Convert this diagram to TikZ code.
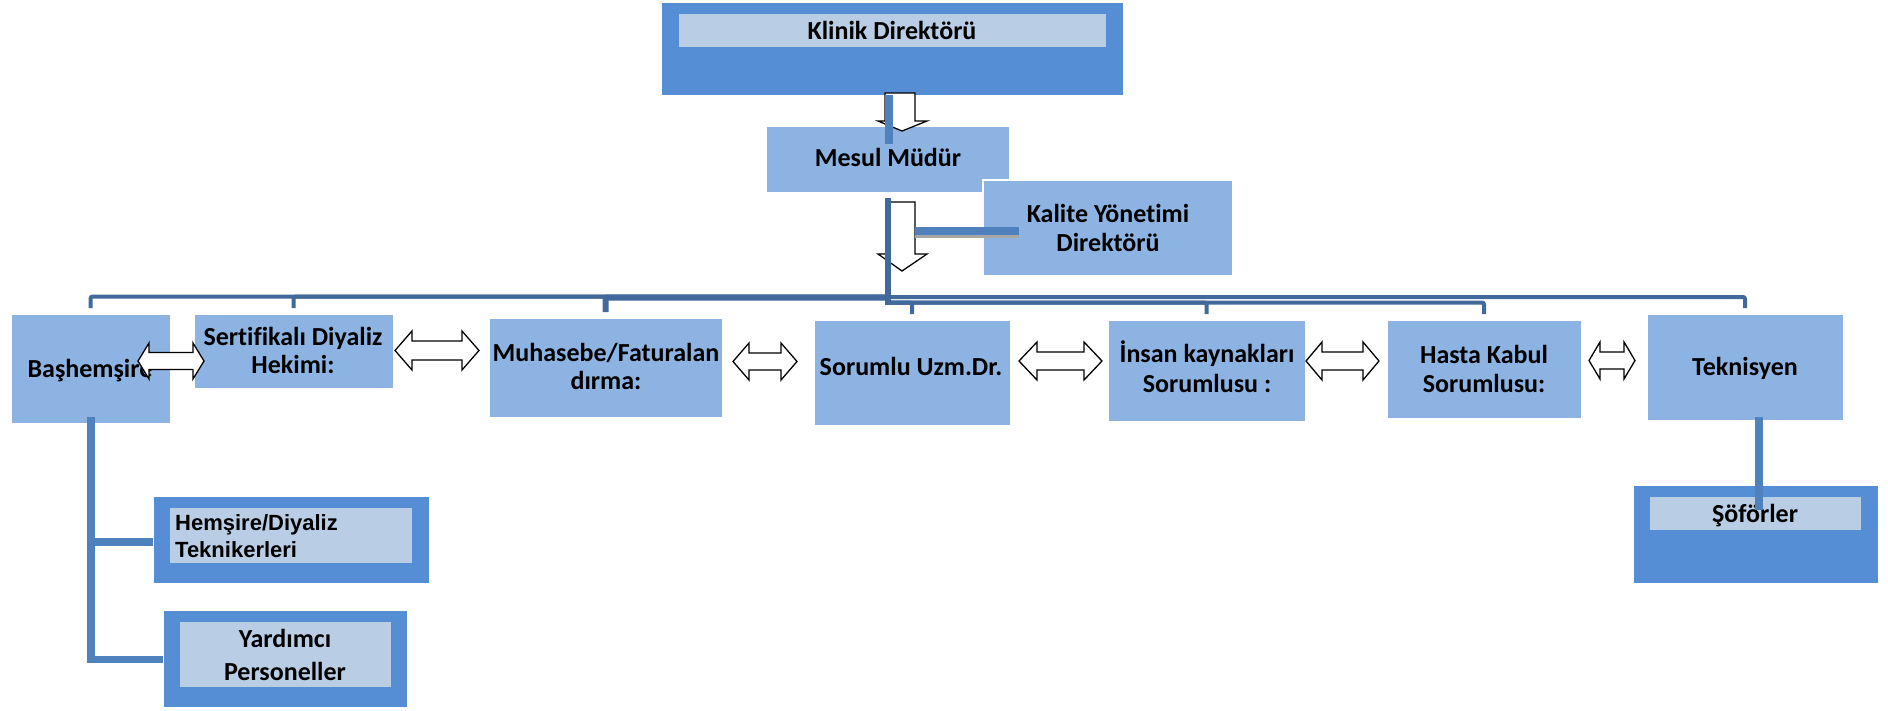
\documentclass[tikz,border=0pt]{standalone}
\usepackage{fontspec}
\setmainfont{Carlito}[RawFeature={-liga}]
\newfontfamily\arialfont{Liberation Sans}
\usetikzlibrary{calc}
\definecolor{lbox}{HTML}{8DB3E2}
\definecolor{dbox}{HTML}{558ED5}
\definecolor{ibox}{HTML}{B9CDE5}
\definecolor{dline}{HTML}{41699B}
\definecolor{mline}{HTML}{4F81BD}
\definecolor{shad}{HTML}{A6A6A6}
\newcommand{\dblarr}[7]{% name x1 x2 yc hh sh hl
\draw[blkarr] (#2,#4) -- ({#2+#7},{#4-#5}) -- ({#2+#7},{#4-#6}) -- ({#3-#7},{#4-#6}) -- ({#3-#7},{#4-#5}) -- (#3,#4) -- ({#3-#7},{#4+#5}) -- ({#3-#7},{#4+#6}) -- ({#2+#7},{#4+#6}) -- ({#2+#7},{#4+#5}) -- cycle;
\coordinate (#1) at ({(#2+#3)/2},#4);}
\begin{document}
\begin{tikzpicture}[x=1pt,y=-1pt,
  boxbase/.style={rectangle,inner sep=0pt,outer sep=0pt,anchor=north west,draw=white,line width=1pt},
  lightbox/.style={boxbase,fill=lbox},
  darkbox/.style={boxbase,fill=dbox},
  innerbox/.style={boxbase,fill=ibox,draw=none},
  lbl/.style={inner sep=0pt,anchor=base,font=\fontsize{26}{28}\selectfont\bfseries},
  blkarr/.style={draw=black,fill=white,line width=1.3pt,line join=miter},
  bus/.style={draw=dline,line width=4pt,rounded corners=2pt},
  busthick/.style={draw=dline,line width=6pt,rounded corners=2pt},
  medline/.style={draw=mline,line width=8pt}]
\useasboundingbox (0,0) rectangle (1888,710);

% ---- boxes ----
\node[darkbox,minimum width=462pt,minimum height=93pt] (kout) at (661,2) {};
\node[innerbox,minimum width=427pt,minimum height=33pt] (kin) at (679,14) {};
\node[lbl] (kint) at (892,39) {Klinik Direktörü};

\node[lightbox,minimum width=243pt,minimum height=66pt] (mesul) at (766,126) {};
\node[lbl] (mesult) at (888,166) {Mesul Müdür};

\node[lightbox,draw=white,line width=2.5pt,minimum width=250pt,minimum height=96pt] (kal) at (983,180) {};
\node[lbl] (kal1) at (1108,222) {Kalite Yönetimi};
\node[lbl] (kal2) at (1108,251) {Direktörü};

\node[lightbox,minimum width=159pt,minimum height=109pt] (bas) at (11,314) {};
\node[lbl] (bast) at (90,377) {Başhemşire};

\node[lightbox,minimum width=199pt,minimum height=74pt] (sert) at (194,314) {};
\node[lbl] (sert1) at (293,345) {Sertifikalı Diyaliz};
\node[lbl] (sert2) at (293,373) {Hekimi:};

\node[lightbox,minimum width=233pt,minimum height=99pt] (muh) at (489,318) {};
\node[lbl] (muh1) at (606,361) {Muhasebe/Faturalan};
\node[lbl] (muh2) at (606,389) {dırma:};

\node[lightbox,minimum width=196pt,minimum height=105pt] (sor) at (814,320) {};
\node[lbl] (sort) at (911,375) {Sorumlu Uzm.Dr.};

\node[lightbox,minimum width=197pt,minimum height=101pt] (ins) at (1108,320) {};
\node[lbl] (ins1) at (1207,362) {İnsan kaynakları};
\node[lbl] (ins2) at (1207,392) {Sorumlusu :};

\node[lightbox,minimum width=194pt,minimum height=98pt] (has) at (1387,320) {};
\node[lbl] (has1) at (1484,363) {Hasta Kabul};
\node[lbl] (has2) at (1484,392) {Sorumlusu:};

\node[lightbox,minimum width=196pt,minimum height=106pt] (tek) at (1647,314) {};
\node[lbl] (tekt) at (1745,375) {Teknisyen};

\node[darkbox,minimum width=245pt,minimum height=98pt] (sout) at (1633,485) {};
\node[innerbox,minimum width=211pt,minimum height=33pt] (sin) at (1650,497) {};
\node[lbl] (sint) at (1755,522) {Şöförler};

\node[darkbox,minimum width=276pt,minimum height=87pt] (hout) at (153,496) {};
\node[innerbox,minimum width=242pt,minimum height=55pt] (hin) at (170,508) {};
\node[inner sep=0pt,anchor=base west,font=\arialfont\fontsize{22}{27}\selectfont\bfseries] (hin1) at (175,530) {Hemşire/Diyaliz};
\node[inner sep=0pt,anchor=base west,font=\arialfont\fontsize{22}{27}\selectfont\bfseries] (hin2) at (175,557) {Teknikerleri};

\node[darkbox,minimum width=244pt,minimum height=97pt] (yout) at (163,610) {};
\node[innerbox,minimum width=211pt,minimum height=65pt] (yin) at (180,622) {};
\node[lbl] (yin1) at (285,647) {Yardımcı};
\node[lbl] (yin2) at (285,680) {Personeller};

% ---- double block arrows ----
\dblarr{da1}{138}{204}{361}{18}{8.5}{11}
\dblarr{da2}{395}{479}{350.5}{19.5}{9.5}{17}
\dblarr{da3}{733}{797}{361.5}{18.5}{8.5}{16}
\dblarr{da4}{1019}{1102}{361}{19}{9}{18}
\dblarr{da5}{1306}{1379}{361}{19}{9}{16}
\dblarr{da6}{1589}{1635}{360.5}{18.5}{8.5}{11}

% ---- down block arrows ----
\draw[blkarr] (885,93) -- (915,93) -- (915,121) -- (927,121) -- (902,131) -- (878,121) -- (885,121) -- cycle;
\draw[blkarr] (889,202) -- (915,202) -- (915,254) -- (927,254) -- (902,271) -- (878,254) -- (889,254) -- cycle;

% ---- connectors ----
\coordinate (a1e) at (889,144);
\draw[medline] (kout.south -| a1e) -- (a1e);

\coordinate (trtop) at (888,198);
\coordinate (trL1) at (888,296.5);
\coordinate (trL2) at (888,297.5);
\coordinate (trR1) at (888,297);
\coordinate (trR2) at (888,302.5);
\draw[bus] (trL1) -| ($(bas.north)+(0,-6)$);
\draw[bus] (trL1) -| ($(sert.north)+(0,-6)$);
\draw[busthick] (trL2) -| ($(muh.north)+(0,-6)$);
\draw[bus] (trR1) -| ($(tek.north)+(0,-6)$);
\draw[bus] (trR2) -| ($(has.north)+(0,-6)$);
\draw[bus] (trR2) -| ($(ins.north)+(0,-6)$);
\draw[bus] (trR2) -| ($(sor.north)+(0,-6)$);
\draw[draw=dline,line width=6pt] (trtop) -- (888,305);

\coordinate (kq) at (915,231);
\coordinate (kqe) at (1019,231);
\draw[draw=shad,line width=4pt] ($(kq)+(0,5)$) -- ($(kqe)+(0,5)$);
\draw[draw=mline,line width=8pt] (kq) -- (kqe);

% Başhemşire branch
\coordinate (bv) at (91,417);
\coordinate (bvb) at (91,663);
\draw[medline] (bv) -- (bvb);
\draw[medline] (bv |- 0,541.5) -- (hout.west |- 0,541.5);
\draw[draw=mline,line width=7pt] (87,659.5) -- (yout.west |- 0,659.5);

% Teknisyen branch
\coordinate (tv) at (1759,417);
\coordinate (tvb) at (1759,510);
\draw[medline] (tv) -- (tvb);
\end{tikzpicture}
\end{document}
